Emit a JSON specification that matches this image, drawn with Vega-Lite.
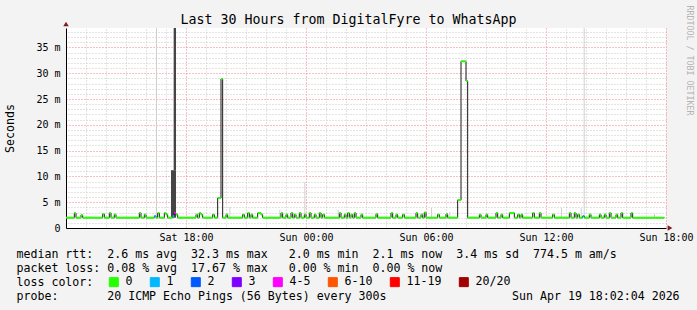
{
  "$schema": "https://vega.github.io/schema/vega-lite/v6.json",
  "width": 600,
  "height": 200,
  "autosize": {"type": "none"},
  "padding": {"left": 66, "top": 28, "right": 31, "bottom": 82},
  "background": "#f3f3f3",
  "config": {
    "view": {"fill": "#ffffff", "stroke": null},
    "axis": {"labelFont": "DejaVu Sans Mono", "titleFont": "DejaVu Sans Mono", "labelColor": "#000000", "titleColor": "#000000", "titleFontWeight": "normal"}
  },
  "title": {"text": "Last 30 Hours from DigitalFyre to WhatsApp", "font": "DejaVu Sans Mono", "fontSize": 13.3, "fontWeight": "normal", "color": "#000000", "anchor": "middle", "dx": -17.5, "dy": 36, "offset": 4, "baseline": "alphabetic"},
  "datasets": {
    "median": [
      {"t": "2026-04-18T12:00", "v": 2.0, "l": "0"},
      {"t": "2026-04-18T12:25", "v": 2.9, "l": "0"}, {"t": "2026-04-18T12:30", "v": 2.0, "l": "0"},
      {"t": "2026-04-18T12:45", "v": 2.5, "l": "0"}, {"t": "2026-04-18T12:50", "v": 2.0, "l": "0"},
      {"t": "2026-04-18T13:50", "v": 2.7, "l": "0"}, {"t": "2026-04-18T13:55", "v": 2.0, "l": "0"},
      {"t": "2026-04-18T14:10", "v": 2.9, "l": "0"}, {"t": "2026-04-18T14:15", "v": 2.0, "l": "0"},
      {"t": "2026-04-18T14:25", "v": 2.6, "l": "0"}, {"t": "2026-04-18T14:30", "v": 2.0, "l": "0"},
      {"t": "2026-04-18T15:40", "v": 2.9, "l": "0"}, {"t": "2026-04-18T15:45", "v": 2.0, "l": "0"},
      {"t": "2026-04-18T15:55", "v": 2.6, "l": "0"}, {"t": "2026-04-18T16:00", "v": 2.0, "l": "0"},
      {"t": "2026-04-18T16:25", "v": 2.3, "l": "1"}, {"t": "2026-04-18T16:30", "v": 2.0, "l": "0"},
      {"t": "2026-04-18T16:35", "v": 2.9, "l": "0"}, {"t": "2026-04-18T16:40", "v": 2.0, "l": "0"},
      {"t": "2026-04-18T16:55", "v": 2.9, "l": "0"}, {"t": "2026-04-18T17:00", "v": 2.6, "l": "0"}, {"t": "2026-04-18T17:05", "v": 2.0, "l": "0"},
      {"t": "2026-04-18T17:20", "v": 2.3, "l": "1"}, {"t": "2026-04-18T17:25", "v": 2.9, "l": "4-5"}, {"t": "2026-04-18T17:30", "v": 2.6, "l": "0"}, {"t": "2026-04-18T17:35", "v": 2.0, "l": "0"},
      {"t": "2026-04-18T18:30", "v": 2.6, "l": "0"}, {"t": "2026-04-18T18:35", "v": 2.0, "l": "0"},
      {"t": "2026-04-18T18:40", "v": 2.9, "l": "0"}, {"t": "2026-04-18T18:45", "v": 2.6, "l": "0"}, {"t": "2026-04-18T18:50", "v": 2.0, "l": "0"},
      {"t": "2026-04-18T19:20", "v": 2.6, "l": "0"}, {"t": "2026-04-18T19:25", "v": 2.0, "l": "0"},
      {"t": "2026-04-18T19:35", "v": 5.8, "l": "0"}, {"t": "2026-04-18T19:45", "v": 28.9, "l": "0"}, {"t": "2026-04-18T19:50", "v": 2.0, "l": "0"},
      {"t": "2026-04-18T20:00", "v": 2.6, "l": "0"}, {"t": "2026-04-18T20:05", "v": 2.0, "l": "0"},
      {"t": "2026-04-18T20:50", "v": 2.6, "l": "0"}, {"t": "2026-04-18T20:55", "v": 2.0, "l": "0"},
      {"t": "2026-04-18T21:05", "v": 2.9, "l": "0"}, {"t": "2026-04-18T21:10", "v": 2.0, "l": "0"},
      {"t": "2026-04-18T21:15", "v": 2.6, "l": "0"}, {"t": "2026-04-18T21:20", "v": 2.0, "l": "0"},
      {"t": "2026-04-18T21:35", "v": 2.9, "l": "0"}, {"t": "2026-04-18T21:45", "v": 2.6, "l": "0"}, {"t": "2026-04-18T21:50", "v": 2.0, "l": "0"},
      {"t": "2026-04-18T22:45", "v": 2.9, "l": "0"}, {"t": "2026-04-18T22:50", "v": 2.0, "l": "0"},
      {"t": "2026-04-18T23:00", "v": 2.6, "l": "0"}, {"t": "2026-04-18T23:05", "v": 2.0, "l": "0"},
      {"t": "2026-04-18T23:15", "v": 2.9, "l": "0"}, {"t": "2026-04-18T23:20", "v": 2.0, "l": "0"},
      {"t": "2026-04-18T23:25", "v": 2.6, "l": "0"}, {"t": "2026-04-18T23:30", "v": 2.0, "l": "0"},
      {"t": "2026-04-18T23:40", "v": 2.9, "l": "0"}, {"t": "2026-04-18T23:45", "v": 2.0, "l": "0"},
      {"t": "2026-04-18T23:55", "v": 2.6, "l": "0"}, {"t": "2026-04-19T00:00", "v": 2.0, "l": "0"},
      {"t": "2026-04-19T00:10", "v": 2.9, "l": "0"}, {"t": "2026-04-19T00:15", "v": 2.0, "l": "0"},
      {"t": "2026-04-19T00:25", "v": 2.6, "l": "0"}, {"t": "2026-04-19T00:30", "v": 2.0, "l": "0"},
      {"t": "2026-04-19T00:40", "v": 2.9, "l": "0"}, {"t": "2026-04-19T00:45", "v": 2.0, "l": "0"},
      {"t": "2026-04-19T00:50", "v": 2.6, "l": "0"}, {"t": "2026-04-19T00:55", "v": 2.0, "l": "0"},
      {"t": "2026-04-19T01:40", "v": 2.9, "l": "0"}, {"t": "2026-04-19T01:45", "v": 2.0, "l": "0"},
      {"t": "2026-04-19T01:55", "v": 2.6, "l": "0"}, {"t": "2026-04-19T02:00", "v": 2.0, "l": "0"},
      {"t": "2026-04-19T02:05", "v": 2.9, "l": "0"}, {"t": "2026-04-19T02:10", "v": 2.0, "l": "0"},
      {"t": "2026-04-19T02:15", "v": 2.6, "l": "0"}, {"t": "2026-04-19T02:20", "v": 2.0, "l": "0"},
      {"t": "2026-04-19T02:25", "v": 2.9, "l": "0"}, {"t": "2026-04-19T02:30", "v": 2.0, "l": "0"},
      {"t": "2026-04-19T02:45", "v": 2.6, "l": "0"}, {"t": "2026-04-19T02:50", "v": 2.0, "l": "0"},
      {"t": "2026-04-19T03:30", "v": 2.7, "l": "0"}, {"t": "2026-04-19T03:35", "v": 2.0, "l": "0"},
      {"t": "2026-04-19T04:15", "v": 2.9, "l": "0"}, {"t": "2026-04-19T04:20", "v": 2.0, "l": "0"},
      {"t": "2026-04-19T04:30", "v": 2.6, "l": "0"}, {"t": "2026-04-19T04:35", "v": 2.0, "l": "0"},
      {"t": "2026-04-19T04:50", "v": 2.6, "l": "0"}, {"t": "2026-04-19T04:55", "v": 2.0, "l": "0"},
      {"t": "2026-04-19T05:30", "v": 2.9, "l": "0"}, {"t": "2026-04-19T05:35", "v": 2.0, "l": "0"},
      {"t": "2026-04-19T05:45", "v": 2.6, "l": "0"}, {"t": "2026-04-19T05:50", "v": 2.0, "l": "0"},
      {"t": "2026-04-19T05:55", "v": 3.0, "l": "0"}, {"t": "2026-04-19T06:00", "v": 2.0, "l": "0"},
      {"t": "2026-04-19T06:35", "v": 2.6, "l": "0"}, {"t": "2026-04-19T06:40", "v": 2.0, "l": "0"},
      {"t": "2026-04-19T07:00", "v": 2.7, "l": "0"}, {"t": "2026-04-19T07:05", "v": 2.0, "l": "0"},
      {"t": "2026-04-19T07:35", "v": 5.4, "l": "0"}, {"t": "2026-04-19T07:45", "v": 32.3, "l": "0"}, {"t": "2026-04-19T08:00", "v": 28.5, "l": "0"}, {"t": "2026-04-19T08:05", "v": 2.0, "l": "0"},
      {"t": "2026-04-19T08:40", "v": 2.6, "l": "0"}, {"t": "2026-04-19T08:45", "v": 2.0, "l": "0"},
      {"t": "2026-04-19T09:00", "v": 2.6, "l": "0"}, {"t": "2026-04-19T09:05", "v": 2.0, "l": "0"},
      {"t": "2026-04-19T09:30", "v": 2.9, "l": "0"}, {"t": "2026-04-19T09:35", "v": 2.0, "l": "0"},
      {"t": "2026-04-19T09:45", "v": 2.6, "l": "0"}, {"t": "2026-04-19T09:50", "v": 2.0, "l": "0"},
      {"t": "2026-04-19T10:10", "v": 2.9, "l": "0"}, {"t": "2026-04-19T10:25", "v": 2.0, "l": "0"},
      {"t": "2026-04-19T10:35", "v": 2.6, "l": "0"}, {"t": "2026-04-19T10:40", "v": 2.0, "l": "0"},
      {"t": "2026-04-19T10:45", "v": 2.6, "l": "0"}, {"t": "2026-04-19T10:50", "v": 2.0, "l": "0"},
      {"t": "2026-04-19T11:20", "v": 2.9, "l": "0"}, {"t": "2026-04-19T11:25", "v": 2.0, "l": "0"},
      {"t": "2026-04-19T11:40", "v": 2.9, "l": "0"}, {"t": "2026-04-19T11:45", "v": 2.0, "l": "0"},
      {"t": "2026-04-19T12:20", "v": 2.6, "l": "0"}, {"t": "2026-04-19T12:25", "v": 2.0, "l": "0"},
      {"t": "2026-04-19T13:10", "v": 2.9, "l": "0"}, {"t": "2026-04-19T13:15", "v": 2.0, "l": "0"},
      {"t": "2026-04-19T13:25", "v": 2.9, "l": "0"}, {"t": "2026-04-19T13:30", "v": 2.0, "l": "0"},
      {"t": "2026-04-19T13:35", "v": 2.6, "l": "0"}, {"t": "2026-04-19T13:40", "v": 2.0, "l": "0"},
      {"t": "2026-04-19T13:50", "v": 2.3, "l": "1"}, {"t": "2026-04-19T13:55", "v": 2.0, "l": "0"},
      {"t": "2026-04-19T14:10", "v": 2.6, "l": "0"}, {"t": "2026-04-19T14:15", "v": 2.0, "l": "0"},
      {"t": "2026-04-19T14:40", "v": 2.6, "l": "0"}, {"t": "2026-04-19T14:45", "v": 2.0, "l": "0"},
      {"t": "2026-04-19T14:55", "v": 2.6, "l": "0"}, {"t": "2026-04-19T15:00", "v": 2.0, "l": "0"},
      {"t": "2026-04-19T15:10", "v": 2.9, "l": "0"}, {"t": "2026-04-19T15:15", "v": 2.0, "l": "0"},
      {"t": "2026-04-19T15:30", "v": 2.6, "l": "0"}, {"t": "2026-04-19T15:35", "v": 2.0, "l": "0"},
      {"t": "2026-04-19T15:45", "v": 2.9, "l": "0"}, {"t": "2026-04-19T15:50", "v": 2.0, "l": "0"},
      {"t": "2026-04-19T16:15", "v": 2.9, "l": "0"}, {"t": "2026-04-19T16:20", "v": 2.0, "l": "0"},
      {"t": "2026-04-19T17:55", "v": 2.0, "l": "0"}
    ],
    "smoke": [
      {"t": "2026-04-18T16:30", "t2": "2026-04-18T16:33", "lo": 2.0, "hi": 60, "s": "light"},
      {"t": "2026-04-18T17:15", "t2": "2026-04-18T17:30", "lo": 2.0, "hi": 11.2, "s": "dark"},
      {"t": "2026-04-18T17:23", "t2": "2026-04-18T17:30", "lo": 11.2, "hi": 60, "s": "dark"},
      {"t": "2026-04-18T20:10", "t2": "2026-04-18T20:13", "lo": 2.0, "hi": 4.1, "s": "light"},
      {"t": "2026-04-18T22:40", "t2": "2026-04-18T22:43", "lo": 2.0, "hi": 3.5, "s": "light"},
      {"t": "2026-04-18T23:55", "t2": "2026-04-18T23:58", "lo": 2.0, "hi": 8.9, "s": "light"},
      {"t": "2026-04-19T01:35", "t2": "2026-04-19T01:38", "lo": 2.0, "hi": 3.5, "s": "light"},
      {"t": "2026-04-19T06:15", "t2": "2026-04-19T06:18", "lo": 2.0, "hi": 3.9, "s": "light"},
      {"t": "2026-04-19T07:10", "t2": "2026-04-19T07:13", "lo": 2.0, "hi": 3.1, "s": "light"},
      {"t": "2026-04-19T12:45", "t2": "2026-04-19T12:48", "lo": 2.0, "hi": 3.9, "s": "light"},
      {"t": "2026-04-19T13:44", "t2": "2026-04-19T13:47", "lo": 2.0, "hi": 3.9, "s": "light"},
      {"t": "2026-04-19T13:53", "t2": "2026-04-19T13:56", "lo": 2.0, "hi": 60, "s": "light"},
      {"t": "2026-04-19T17:24", "t2": "2026-04-19T17:27", "lo": 2.0, "hi": 2.7, "s": "light"}
    ]
  },
  "layer": [
    {
      "data": {"name": "smoke"},
      "mark": {"type": "rect", "clip": true},
      "encoding": {
        "x": {"field": "t", "type": "temporal",
          "scale": {"domain": [{"year": 2026, "month": 4, "date": 18, "hours": 12}, {"year": 2026, "month": 4, "date": 19, "hours": 18}]},
          "axis": {"orient": "top", "labels": false, "ticks": false, "domain": false, "grid": true, "gridColor": "#c8c8c8", "gridDash": [1, 2], "title": null,
            "values": [
              {"year": 2026, "month": 4, "date": 18, "hours": 13}, {"year": 2026, "month": 4, "date": 18, "hours": 14}, {"year": 2026, "month": 4, "date": 18, "hours": 15}, {"year": 2026, "month": 4, "date": 18, "hours": 16}, {"year": 2026, "month": 4, "date": 18, "hours": 17},
              {"year": 2026, "month": 4, "date": 18, "hours": 19}, {"year": 2026, "month": 4, "date": 18, "hours": 20}, {"year": 2026, "month": 4, "date": 18, "hours": 21}, {"year": 2026, "month": 4, "date": 18, "hours": 22}, {"year": 2026, "month": 4, "date": 18, "hours": 23},
              {"year": 2026, "month": 4, "date": 19, "hours": 1}, {"year": 2026, "month": 4, "date": 19, "hours": 2}, {"year": 2026, "month": 4, "date": 19, "hours": 3}, {"year": 2026, "month": 4, "date": 19, "hours": 4}, {"year": 2026, "month": 4, "date": 19, "hours": 5},
              {"year": 2026, "month": 4, "date": 19, "hours": 7}, {"year": 2026, "month": 4, "date": 19, "hours": 8}, {"year": 2026, "month": 4, "date": 19, "hours": 9}, {"year": 2026, "month": 4, "date": 19, "hours": 10}, {"year": 2026, "month": 4, "date": 19, "hours": 11},
              {"year": 2026, "month": 4, "date": 19, "hours": 13}, {"year": 2026, "month": 4, "date": 19, "hours": 14}, {"year": 2026, "month": 4, "date": 19, "hours": 15}, {"year": 2026, "month": 4, "date": 19, "hours": 16}, {"year": 2026, "month": 4, "date": 19, "hours": 17}
            ]}},
        "x2": {"field": "t2"},
        "y": {"field": "lo", "type": "quantitative",
          "scale": {"domain": [0, 38.76], "nice": false},
          "axis": {"orient": "right", "labels": false, "ticks": false, "domain": false, "grid": true, "gridColor": "#c8c8c8", "gridDash": [1, 2],
            "values": [1, 2, 3, 4, 6, 7, 8, 9, 11, 12, 13, 14, 16, 17, 18, 19, 21, 22, 23, 24, 26, 27, 28, 29, 31, 32, 33, 34, 36, 37, 38],
            "title": "RRDTOOL / TOBI OETIKER", "titleAngle": 90, "titleX": 22, "titleY": 32, "titleFontSize": 8.3, "titleColor": "#b4b4b4", "titleAlign": "center", "titleBaseline": "middle"}},
        "y2": {"field": "hi"},
        "fill": {"field": "s", "type": "nominal", "scale": {"domain": ["light", "dark"], "range": ["#cfcfcf", "#454545"]}, "legend": null}
      }
    },
    {
      "data": {"name": "median"},
      "mark": {"type": "line", "interpolate": "step-after", "color": "#1a1a1a", "strokeWidth": 1},
      "encoding": {
        "x": {"field": "t", "type": "temporal",
          "axis": {"orient": "bottom", "format": "%a %H:%M", "labelFontSize": 10, "labelPadding": 4, "ticks": false, "domain": true, "domainColor": "#000000", "grid": true, "gridColor": "#f08080", "gridDash": [1, 2], "labelFlush": false, "labelOverlap": false,
            "values": [{"year": 2026, "month": 4, "date": 18, "hours": 18}, {"year": 2026, "month": 4, "date": 19, "hours": 0}, {"year": 2026, "month": 4, "date": 19, "hours": 6}, {"year": 2026, "month": 4, "date": 19, "hours": 12}, {"year": 2026, "month": 4, "date": 19, "hours": 18}],
            "title": [
              "median rtt:\u00a0\u00a02.6 ms avg\u00a0\u00a032.3 ms max\u00a0\u00a0\u00a02.0 ms min\u00a0\u00a02.1 ms now\u00a0\u00a03.4 ms sd\u00a0\u00a0774.5 m am/s",
              "packet loss: 0.08 % avg\u00a0\u00a017.67 % max\u00a0\u00a0\u00a00.00 % min\u00a0\u00a00.00 % now",
              "loss color:",
              "probe:\u00a0\u00a0\u00a0\u00a0\u00a0\u00a0\u00a020 ICMP Echo Pings (56 Bytes) every 300s\u00a0\u00a0\u00a0\u00a0\u00a0\u00a0\u00a0\u00a0\u00a0\u00a0\u00a0\u00a0\u00a0\u00a0\u00a0\u00a0\u00a0\u00a0Sun Apr 19 18:02:04 2026"
            ],
            "titleX": -50, "titleY": 20, "titleAlign": "left", "titleBaseline": "top", "titleFontSize": 11.6, "titleLineHeight": 14, "titleLimit": 1000}},
        "y": {"field": "v", "type": "quantitative",
          "axis": {"orient": "left", "values": [0, 5, 10, 15, 20, 25, 30, 35], "labelExpr": "datum.value == 0 ? '0\u00a0\u00a0' : datum.value + ' m'", "labelFontSize": 10, "labelPadding": 6, "ticks": false, "domainColor": "#000000", "grid": true, "gridColor": "#f08080", "gridDash": [1, 2],
            "title": "Seconds", "titleX": -56, "titleY": 100, "titleFontSize": 11.6, "titleAngle": -90, "titleAlign": "center", "titleBaseline": "middle"}}
      }
    },
    {
      "data": {"name": "median"},
      "transform": [
        {"window": [{"op": "lead", "field": "t", "as": "t2"}], "sort": [{"field": "t", "order": "ascending"}]},
        {"filter": "datum.t2 != null"}
      ],
      "mark": {"type": "rule", "strokeWidth": 2},
      "encoding": {
        "x": {"field": "t", "type": "temporal", "axis": null},
        "x2": {"field": "t2"},
        "y": {"field": "v", "type": "quantitative", "axis": null},
        "color": {"field": "l", "type": "nominal",
          "scale": {"domain": ["0", "1", "2", "3", "4-5", "6-10", "11-19", "20/20"], "range": ["#26ff00", "#00b8ff", "#0059ff", "#7e00ff", "#ff00ff", "#ff5500", "#ff0000", "#a00000"]},
          "legend": {"title": null, "orient": "none", "legendX": 42, "legendY": 248, "direction": "horizontal", "symbolType": "square", "symbolSize": 81, "symbolStrokeColor": "#000000", "symbolStrokeWidth": 1, "symbolOpacity": 1,
            "labelFont": "DejaVu Sans Mono", "labelFontSize": 11.6, "labelColor": "#000000", "labelOffset": 6, "columnPadding": 15, "padding": 0,
            "encode": {"symbols": {"update": {"fill": {"scale": "color", "field": "value"}, "stroke": {"value": "#000000"}, "strokeWidth": {"value": 1}, "opacity": {"value": 1}}}}}}
      }
    },
    {
      "data": {"values": [{}]},
      "mark": {"type": "point", "shape": "triangle-right", "filled": true, "color": "#7b2020", "size": 30, "opacity": 1, "xOffset": 4, "clip": false},
      "encoding": {
        "x": {"datum": {"year": 2026, "month": 4, "date": 19, "hours": 18}, "type": "temporal", "axis": null},
        "y": {"datum": 0, "type": "quantitative", "axis": null}
      }
    },
    {
      "data": {"values": [{}]},
      "mark": {"type": "point", "shape": "triangle-up", "filled": true, "color": "#7b2020", "size": 30, "opacity": 1, "yOffset": -4, "clip": false},
      "encoding": {
        "x": {"datum": {"year": 2026, "month": 4, "date": 18, "hours": 12}, "type": "temporal", "axis": null},
        "y": {"datum": 38.76, "type": "quantitative", "axis": null}
      }
    }
  ],
  "resolve": {"axis": {"x": "independent", "y": "independent"}}
}
